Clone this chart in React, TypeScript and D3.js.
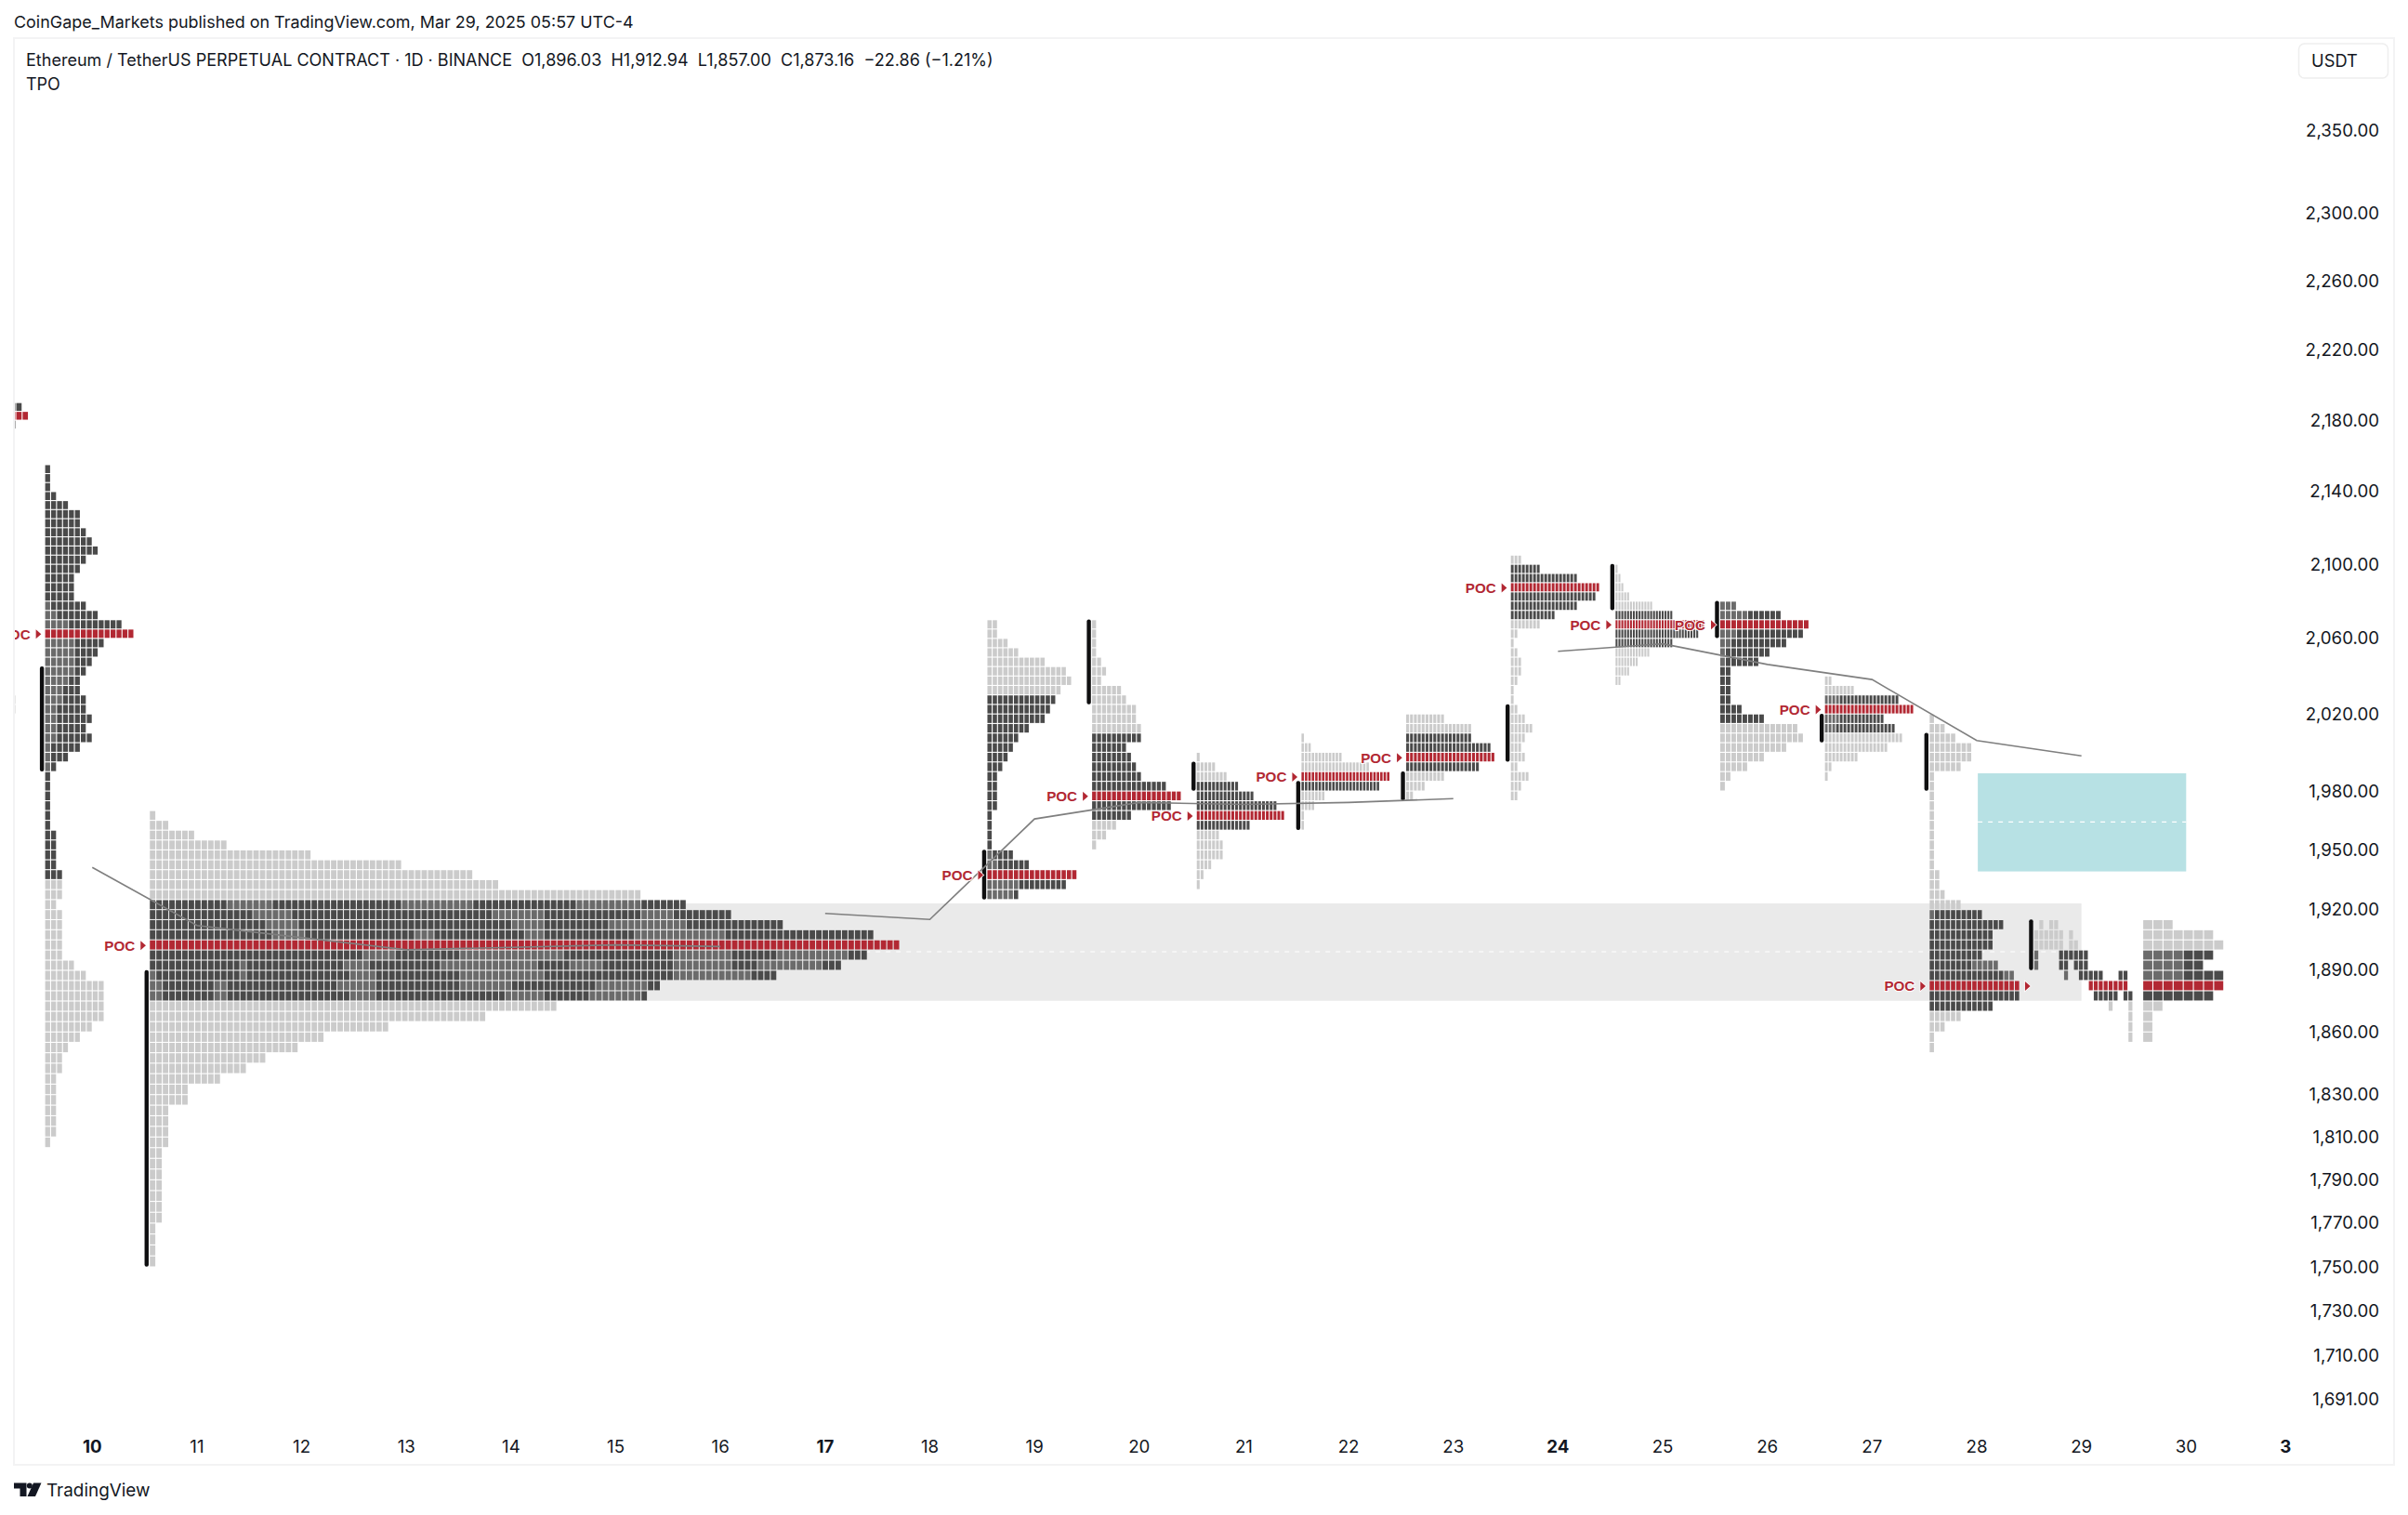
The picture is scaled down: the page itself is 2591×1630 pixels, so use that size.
import React from "react";
import * as d3 from "d3";

const W = 2591, H = 1630;
const FONT = "Inter, 'Noto Sans', sans-serif";

const priceTicks = [2350, 2300, 2260, 2220, 2180, 2140, 2100, 2060, 2020, 1980, 1950, 1920, 1890, 1860, 1830, 1810, 1790, 1770, 1750, 1730, 1710, 1691];
const dayLabels = ["10", "11", "12", "13", "14", "15", "16", "17", "18", "19", "20", "21", "22", "23", "24", "25", "26", "27", "28", "29", "30", "3"];
const dayPositions = [0, 1, 2, 3, 4, 5, 6, 7, 8, 9, 10, 11, 12, 13, 14, 15, 16, 17, 18, 19, 20, 20.95];
const boldDays = ["10", "17", "24", "3"];

type Seg = [number, number];
type Row = number | Seg[];
type Fade = [number, number, number];

const rows0: Row[] = [13, 14, 12, 8, 8, 8, 8, 8, 8, 8, 8, 8, 8, 8, 8, 8, 8, 8, 8, 8, 8, 8, 8, 8, 8, 8, 8, 8, 8, 8, 8, 8, 12, 12];
const rows1: Row[] = [1, 1, 1, 2, 4, 6, 6, 7, 8, 9, 7, 6, 5, 5, 5, 7, 9, 13, 15, 10, 9, 8, 7, 6, 6, 7, 7, 8, 7, 8, 6, 4, 2, 1, 1, 1, 1, 1, 1, 2, 2, 2, 2, 3, 3, 3, 2, 3, 3, 3, 3, 3, 5, 7, 10, 10, 10, 10, 8, 6, 4, 3, 3, 2, 2, 2, 2, 2, 2, 1];
const rows2: Row[] = [1, 3, 7, 12, 25, 39, 50, 54, 76, 83, 90, 98, 112, 116, 111, 107, 97, 79, 77, 63, 52, 37, 27, 23, 18, 15, 11, 6, 6, 3, 3, 3, 3, 2, 2, 2, 2, 2, 2, 2, 1, 1, 1, 1];
const rows3: Row[] = [2, 2, 4, 6, 11, 15, 16, 14, 13, 12, 11, 8, 6, 5, 4, 3, 2, 2, 2, 2, 1, 1, 1, 1, 5, 8, 17, 15, 6];
const rows4: Row[] = [1, 1, 1, 1, 2, 3, 2, 6, 7, 9, 9, 10, 10, 7, 8, 9, 10, 15, 18, 16, 8, 5, 3, 1];
const rows5: Row[] = [1, 5, 8, 11, 15, 21, 23, 14, 6, 7, 7, 4, 2, 1];
const rows6: Row[] = [1, 3, 12, 20, 26, 23, 7, 4, 1, 1];
const rows7: Row[] = [10, 17, 17, 22, 23, 19, 10, 5, 2];
const rows8: Row[] = [3, 8, 18, 24, 23, 18, 12, 8, 2, 1, 2, 3, 3, 2, 1, 1, 2, 4, 6, 4, 3, 4, 2, 5, 3, 2];
const rows9: Row[] = [1, 2, 3, 5, 13, 20, 31, 29, 20, 12, 8, 5, 2];
const rows10: Row[] = [3, 11, 16, 15, 12, 9, 7, 2, 2, 2, 2, 4, 8, 14, 15, 12, 8, 5, 2, 1];
const rows11: Row[] = [2, 8, 20, 24, 16, 19, 21, 17, 9, 2, 1];
const rows12: Row[] = [1, 3, 5, 8, 8, 6, 1, 1, 1, 1, 1, 1, 1, 1, 1, 1, 2, 2, 3, 6, 10, 14, 12, 12, 10, 13, 16, 17, 17, 12, 6, 3, 1, 1];
const rows13: Row[] = [
  [[1, 1], [3, 2]],
  [[0, 6], [7, 1]],
  [[0, 6], [7, 2]],
  [[0, 1], [5, 6]],
  [[0, 1], [5, 2], [8, 3]],
  [[6, 1], [9, 5], [17, 2]],
  [[11, 8]],
  [[12, 5], [18, 2]],
  [[15, 1], [19, 1]],
  [[19, 1]],
  [[19, 1]],
  [[19, 1]],
];
const rows14: Row[] = [3, 7, 8, 7, 6, 8, 8, 7, 2, 1, 1, 1];

const fades1: Fade[] = [[15, 0, 1], [16, 0, 2], [17, 0, 4], [19, 0, 5], [20, 0, 5], [21, 0, 5], [22, 0, 5], [23, 0, 4], [24, 0, 3], [25, 0, 3], [26, 0, 2], [27, 0, 2], [28, 0, 2], [29, 0, 2], [30, 0, 1], [31, 0, 1], [32, 0, 1]];
const fades2: Fade[] = [
  [9, 12, 19], [9, 39, 50], [9, 66, 76], [10, 16, 22], [10, 53, 61], [10, 76, 81], [11, 18, 23], [11, 56, 61], [11, 71, 83], [12, 19, 24], [12, 41, 44], [12, 58, 61], [12, 75, 89],
  [14, 33, 38], [14, 48, 64], [14, 81, 90], [14, 97, 108], [15, 14, 15], [15, 30, 34], [15, 45, 60], [15, 65, 70], [15, 81, 90], [15, 94, 104],
  [16, 0, 1], [16, 14, 15], [16, 31, 35], [16, 48, 61], [16, 81, 93], [17, 0, 2], [17, 10, 12], [17, 29, 35], [17, 48, 56], [17, 69, 77], [18, 0, 2], [18, 10, 12], [18, 31, 35], [18, 55, 61], [18, 68, 76],
];
const fades3: Fade[] = [[24, 0, 1], [25, 0, 2], [27, 0, 6], [28, 0, 5]];
const fades10: Fade[] = [[0, 0, 3], [1, 0, 5], [3, 0, 3], [4, 0, 2], [5, 0, 1], [6, 0, 1]];
const fades14: Fade[] = [[3, 0, 4], [4, 0, 4], [5, 0, 4]];
const fades13: Fade[] = [[3, 0, 1], [4, 0, 1], [5, 6, 7]];
const fades11: Fade[] = [[2, 0, 4], [4, 0, 4], [5, 0, 3]];
const fades12: Fade[] = [[20, 0, 1], [25, 8, 13], [26, 14, 16]];

const line1Days = [0, 1, 3, 5, 6];
const line1Prices = [1941, 1912, 1900, 1902.4, 1901.6];
const line2Days = [7, 8, 9, 10, 11, 12, 13];
const line2Prices = [1918, 1915, 1965.6, 1974, 1973, 1974, 1976];
const line3Days = [14, 15, 16, 17, 18, 19];
const line3Prices = [2053, 2057, 2046, 2038, 2006, 1998];

const grayBoxDays = [0.55, 19];
const grayBoxPrices = [1923, 1875];
const tealBoxDays = [18.01, 20];
const tealBoxPrices = [1989, 1939];

interface Profile {
  day: number; pitch: number; top: number; rows: Row[]; va: [number, number]; poc: number;
  bar: [number, number] | null; fades: Fade[]; label: boolean; arrow: boolean;
}
const profiles: Profile[] = [
  { day: -1.45, pitch: 6.8, top: 2190, rows: rows0, va: [0, 2], poc: 1, bar: null, fades: [], label: false, arrow: false },
  { day: -0.45, pitch: 6.4, top: 2155, rows: rows1, va: [0, 43], poc: 18, bar: [2045, 1990], fades: fades1, label: true, arrow: true },
  { day: 0.55, pitch: 6.96, top: 1970, rows: rows2, va: [9, 18], poc: 13, bar: [1890, 1750], fades: fades2, label: true, arrow: true },
  { day: 8.55, pitch: 5.7, top: 2070, rows: rows3, va: [8, 28], poc: 26, bar: [1950, 1925], fades: fades3, label: true, arrow: true },
  { day: 9.55, pitch: 5.36, top: 2070, rows: rows4, va: [12, 20], poc: 18, bar: [2070, 2025], fades: [], label: true, arrow: true },
  { day: 10.55, pitch: 4.13, top: 2000, rows: rows5, va: [3, 7], poc: 6, bar: [1995, 1980], fades: [], label: true, arrow: true },
  { day: 11.55, pitch: 3.68, top: 2010, rows: rows6, va: [4, 5], poc: 4, bar: [1985, 1960], fades: [], label: true, arrow: true },
  { day: 12.55, pitch: 4.17, top: 2020, rows: rows7, va: [2, 5], poc: 4, bar: [1990, 1975], fades: [], label: true, arrow: true },
  { day: 13.55, pitch: 4, top: 2105, rows: rows8, va: [1, 6], poc: 3, bar: [2025, 1995], fades: [], label: true, arrow: true },
  { day: 14.55, pitch: 3.1, top: 2100, rows: rows9, va: [5, 8], poc: 6, bar: [2100, 2075], fades: [], label: true, arrow: true },
  { day: 15.55, pitch: 6, top: 2080, rows: rows10, va: [0, 12], poc: 2, bar: [2080, 2060], fades: fades10, label: true, arrow: true },
  { day: 16.55, pitch: 4, top: 2040, rows: rows11, va: [2, 5], poc: 3, bar: [2020, 2005], fades: fades11, label: true, arrow: true },
  { day: 17.55, pitch: 5.73, top: 2020, rows: rows12, va: [20, 29], poc: 27, bar: [2010, 1980], fades: fades12, label: true, arrow: true },
  { day: 18.55, pitch: 5.33, top: 1915, rows: rows13, va: [3, 7], poc: 6, bar: [1915, 1890], fades: fades13, label: false, arrow: true },
  { day: 19.59, pitch: 10.9, top: 1915, rows: rows14, va: [3, 7], poc: 6, bar: null, fades: fades14, label: false, arrow: false },
];

const x = d3.scaleLinear().domain([0, 20]).range([99.3, 2352.3]);
const y = d3.scaleLog().domain([2350, 1691]).range([140.5, 1505]);
const rowStep = 5;

const DARK = "#4a4a4a", FADED = "#6b6b6b", LIGHT = "#cbcbcb", RED = "#b22833";

function cellsOf(p: Profile) {
  const left = x(p.day);
  const gap = Math.min(1.1, p.pitch * 0.33);
  const out: { k: string; x: number; y: number; w: number; h: number; fill: string }[] = [];
  p.rows.forEach((row, i) => {
    const segs: Seg[] = typeof row === "number" ? [[0, row]] : row;
    const y0 = y(p.top - i * rowStep) + 0.8, y1 = y(p.top - (i + 1) * rowStep) + 0.8;
    const inVa = i >= p.va[0] && i <= p.va[1];
    for (const [s, n] of segs) {
      for (let c = s; c < s + n; c++) {
        let fill = inVa ? DARK : LIGHT;
        if (i === p.poc) fill = RED;
        else if (inVa && p.fades.some(([r, a, b]) => r === i && c >= a && c < b)) fill = FADED;
        out.push({ k: `${i}-${c}`, x: left + c * p.pitch, y: y0, w: p.pitch - gap, h: y1 - y0 - 1.1, fill });
      }
    }
  });
  return out;
}

const lineGen = d3.line<[number, number]>().x((d) => x(d[0])).y((d) => y(d[1]));
const zipLine = (a: number[], b: number[]) => a.map((d, i) => [d, b[i]] as [number, number]);

export default function App() {
  return (
    <svg width={W} height={H} style={{ position: "fixed", left: 0, top: 0, background: "#fff", fontFamily: FONT }}>
      <defs>
        <clipPath id="plot"><rect x={16} y={41} width={2559} height={1535} /></clipPath>
      </defs>
      <text x={15} y={30} fontSize={17.95} fill="#131722">CoinGape_Markets published on TradingView.com, Mar 29, 2025 05:57 UTC-4</text>
      <rect x={15} y={41} width={2561} height={1535} fill="none" stroke="#f3f3f4" strokeWidth={2} />

      <g clipPath="url(#plot)">
        <rect x={x(grayBoxDays[0])} width={x(grayBoxDays[1]) - x(grayBoxDays[0])} y={y(grayBoxPrices[0])} height={y(grayBoxPrices[1]) - y(grayBoxPrices[0])} fill="#eaeaea" />
        <line x1={x(grayBoxDays[0])} x2={x(grayBoxDays[1])} y1={y((grayBoxPrices[0] + grayBoxPrices[1]) / 2)} y2={y((grayBoxPrices[0] + grayBoxPrices[1]) / 2)} stroke="#fff" strokeWidth={1.2} strokeDasharray="5 6" />
        <rect x={x(tealBoxDays[0])} width={x(tealBoxDays[1]) - x(tealBoxDays[0])} y={y(tealBoxPrices[0])} height={y(tealBoxPrices[1]) - y(tealBoxPrices[0])} fill="#b7e1e4" />
        <line x1={x(tealBoxDays[0])} x2={x(tealBoxDays[1])} y1={y((tealBoxPrices[0] + tealBoxPrices[1]) / 2)} y2={y((tealBoxPrices[0] + tealBoxPrices[1]) / 2)} stroke="#fff" strokeWidth={1.2} strokeDasharray="5 6" />

        {profiles.map((p, pi) => (
          <g key={pi}>
            {cellsOf(p).map((c) => <rect key={c.k} x={c.x} y={c.y} width={c.w} height={c.h} fill={c.fill} />)}
            {p.bar && <rect x={x(p.day) - 5.7} width={4.4} y={y(p.bar[0])} height={y(p.bar[1]) - y(p.bar[0])} rx={2} fill="#0f0f10" />}
          </g>
        ))}

        {[zipLine(line1Days, line1Prices), zipLine(line2Days, line2Prices), zipLine(line3Days, line3Prices)].map((l, i) => (
          <path key={i} d={lineGen(l) ?? ""} fill="none" stroke="#7f7f7f" strokeWidth={1.6} />
        ))}

        {profiles.map((p, pi) => {
          if (!p.arrow) return null;
          const left = x(p.day);
          const cy = y(p.top - (p.poc + 0.5) * rowStep) + 0.8;
          return (
            <g key={pi}>
              {p.label && (
                <text x={left - 16} y={cy} dy="0.36em" textAnchor="end" fontFamily="'Liberation Sans', Arial, sans-serif" fontWeight={700} fontSize={15.2} fill={RED} stroke="#fff" strokeWidth={2} paintOrder="stroke">POC</text>
              )}
              <path d={`M${left - 10},${cy - 5} L${left - 4.3},${cy} L${left - 10},${cy + 5} Z`} fill={RED} stroke="#fff" strokeWidth={1.5} paintOrder="stroke" />
            </g>
          );
        })}
      </g>

      <text x={28} y={71} fontSize={18.05} fill="#131722" xmlSpace="preserve">Ethereum / TetherUS PERPETUAL CONTRACT · 1D · BINANCE  O1,896.03  H1,912.94  L1,857.00  C1,873.16  −22.86 (−1.21%)</text>
      <text x={28} y={97} fontSize={18} fill="#131722">TPO</text>

      {priceTicks.map((t) => (
        <text key={t} x={2560} y={y(t)} dy="0.36em" textAnchor="end" fontSize={18.7} fill="#131722">{d3.format(",.2f")(t)}</text>
      ))}
      {dayLabels.map((d, i) => (
        <text key={i} x={x(dayPositions[i])} y={1556} dy="0.36em" textAnchor="middle" fontSize={18.7} fontWeight={boldDays.includes(d) ? 700 : 400} fill="#131722">{d}</text>
      ))}

      <rect x={2473.5} y={47} width={96} height={37} rx={6} fill="#fff" stroke="#eeeeee" strokeWidth={1.5} />
      <text x={2512} y={65} dy="0.36em" textAnchor="middle" fontSize={18.3} fill="#131722">USDT</text>

      <g fill="#131722">
        <path d="M15,1595.5 H28.5 V1610 H21.5 V1601.5 H15 Z" />
        <circle cx={31.8} cy={1598.5} r={3} />
        <path d="M36,1595.5 H44.5 L38,1610 H29.5 Z" />
      </g>
      <text x={50} y={1603.5} dy="0.36em" fontSize={18.9} fill="#131722">TradingView</text>
    </svg>
  );
}
